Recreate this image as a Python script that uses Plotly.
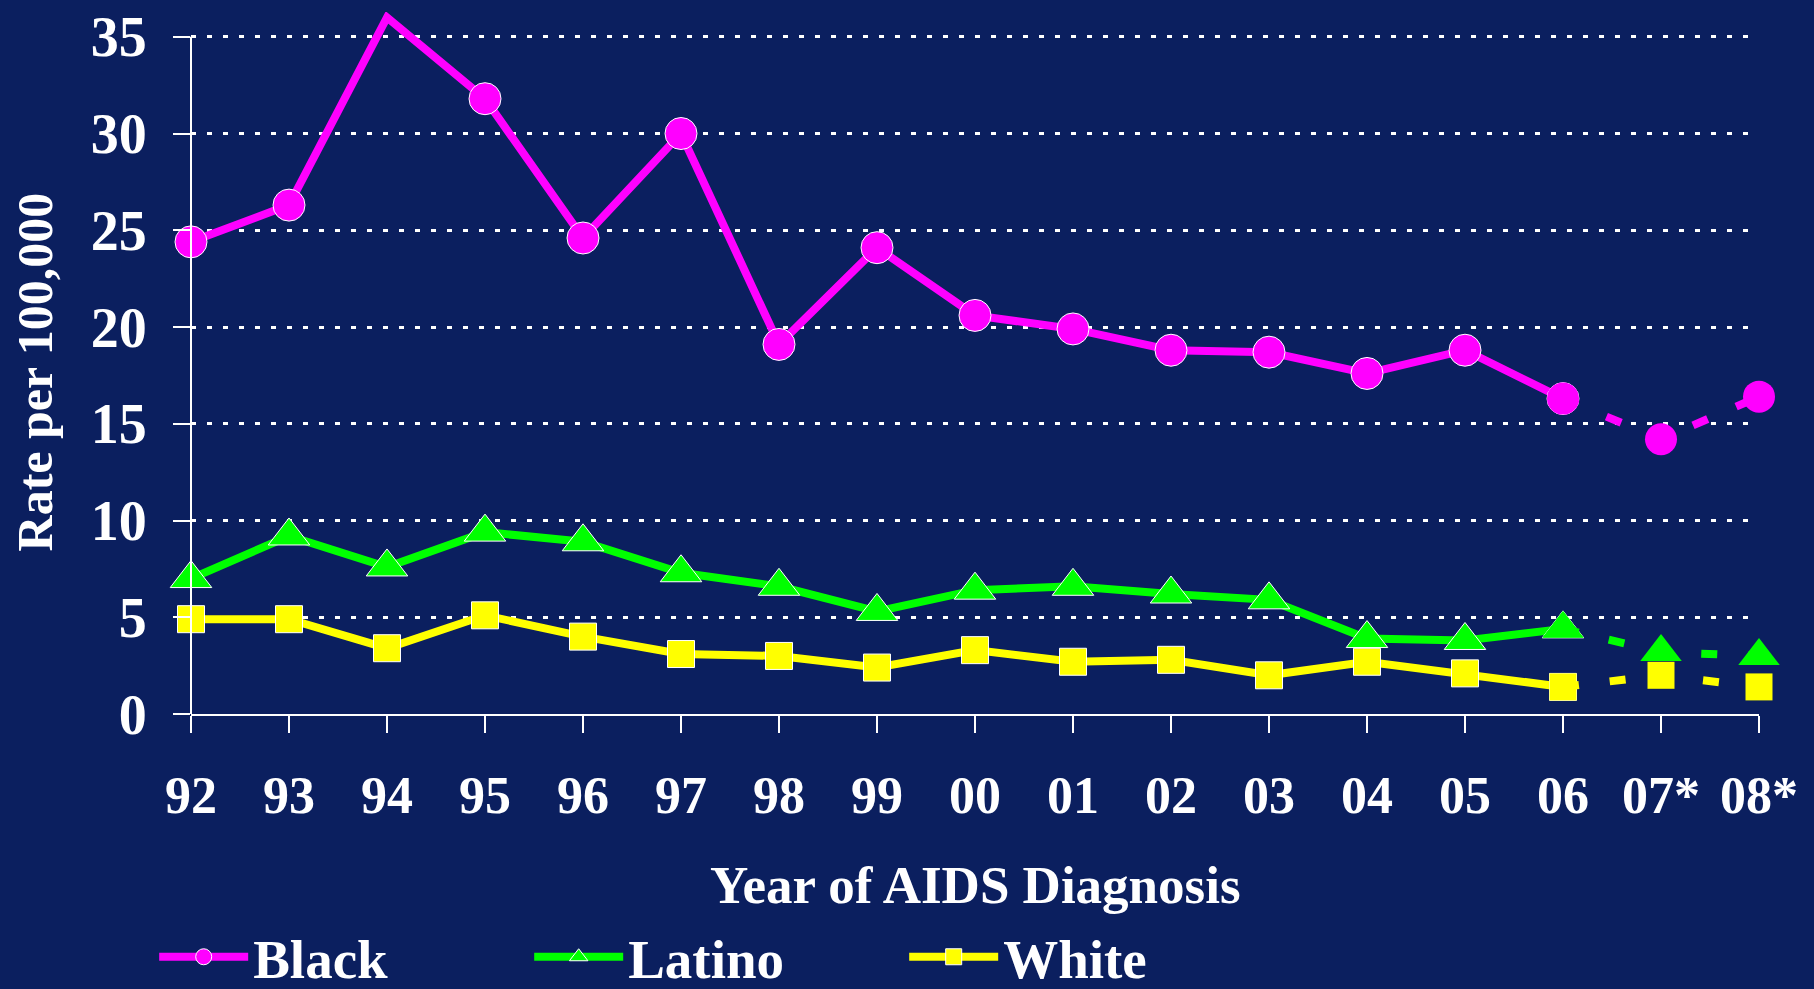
import plotly.graph_objects as go

# ---- data ----
years = ["92", "93", "94", "95", "96", "97", "98", "99", "00", "01",
         "02", "03", "04", "05", "06", "07*", "08*"]
black = [24.4, 26.3, 36.0, 31.8, 24.6, 30.0, 19.1, 24.1, 20.6, 19.9,
         18.8, 18.7, 17.6, 18.8, 16.3, 14.2, 16.4]
latino = [7.0, 9.2, 7.6, 9.4, 8.9, 7.3, 6.6, 5.3, 6.4, 6.6,
          6.2, 5.9, 3.9, 3.8, 4.4, 3.2, 3.0]
white = [4.9, 4.9, 3.4, 5.1, 4.0, 3.1, 3.0, 2.4, 3.3, 2.7,
         2.8, 2.0, 2.7, 2.1, 1.4, 2.0, 1.4]
n_solid = 15  # 92..06 reported; 07*, 08* projected (dashed)

BG = "#0B1F5F"
FONT = "Liberation Serif, Times New Roman, serif"
Y_TOP = 36.28

series = [
    ("Black", black, "#FF00FF", "circle", 32),
    ("Latino", latino, "#00FF00", "triangle-up", 36),
    ("White", white, "#FFFF00", "square", 27),
]

fig = go.Figure()
for name, vals, color, sym, size in series:
    sizes = [0 if v > 35.5 else size for v in vals[:n_solid]]
    fig.add_trace(go.Scatter(
        x=years[:n_solid], y=vals[:n_solid], name=name, mode="lines+markers",
        line=dict(color=color, width=8),
        marker=dict(symbol=sym, size=sizes, color=color, opacity=1),
        cliponaxis=False,
    ))
    fig.add_trace(go.Scatter(
        x=years[n_solid - 1:], y=vals[n_solid - 1:], name=name, mode="lines+markers",
        line=dict(color=color, width=8, dash="16px,31px"),
        marker=dict(symbol=sym, size=size, color=color, opacity=1),
        cliponaxis=False, showlegend=False,
    ))

fig.update_layout(
    width=1814, height=989,
    margin=dict(l=191, r=55, t=7, b=275),
    paper_bgcolor=BG, plot_bgcolor=BG,
    font=dict(family=FONT, color="white", size=52, weight="bold"),
    showlegend=True,
    legend=dict(
        orientation="h", xref="container", yref="container",
        x=0.085, y=(989 - 957) / 989, xanchor="left", yanchor="middle",
        font=dict(size=55, family=FONT, color="white", weight="bold"),
        bgcolor="rgba(0,0,0,0)", itemwidth=89,
        entrywidth=271, entrywidthmode="pixels",
    ),
    xaxis=dict(
        type="category", range=[0, len(years) - 1],
        showline=True, linecolor="white", linewidth=2,
        ticks="outside", ticklen=17, tickwidth=2, tickcolor="white",
        showgrid=False, ticklabelstandoff=18,
        tickfont=dict(size=52, family=FONT, color="white", weight="bold"),
    ),
    yaxis=dict(
        range=[0, Y_TOP], tick0=0, dtick=5,
        tickvals=[0, 5, 10, 15, 20, 25, 30, 35],
        showline=False, zeroline=False,
        ticks="outside", ticklen=17, tickwidth=2, tickcolor="white",
        showgrid=True, gridcolor="white", gridwidth=3, griddash="5px,11px",
        ticklabelstandoff=15,
        tickfont=dict(size=56, family=FONT, color="white", weight="bold"),
    ),
    shapes=[dict(type="line", xref="paper", yref="y", x0=0, x1=0, y0=0, y1=35,
                 line=dict(color="white", width=2), layer="above")],
    annotations=[
        dict(text="Rate per 100,000", xref="paper", yref="paper",
             x=(35 - 191) / 1568, y=(714 - 370) / 707, textangle=-90,
             xanchor="center", yanchor="middle", showarrow=False,
             font=dict(size=50, family=FONT, color="white", weight="bold")),
        dict(text="Year of AIDS Diagnosis", xref="paper", yref="paper",
             x=0.5, y=(714 - 886) / 707, xanchor="center", yanchor="middle",
             showarrow=False,
             font=dict(size=53, family=FONT, color="white", weight="bold")),
    ],
)

fig.write_html("out.html", config={"displayModeBar": False},
               post_script="document.body.style.margin='0px';document.body.style.overflow='hidden';")
